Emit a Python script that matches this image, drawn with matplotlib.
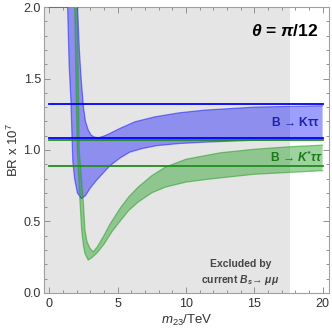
import matplotlib
matplotlib.use("Agg")
import matplotlib.pyplot as plt
from matplotlib.ticker import MultipleLocator

plt.rcParams['font.family'] = ['Liberation Sans', 'DejaVu Sans']
plt.rcParams['mathtext.fontset'] = 'custom'
plt.rcParams['mathtext.rm'] = 'Liberation Sans'
plt.rcParams['mathtext.it'] = 'Liberation Sans:italic'
plt.rcParams['mathtext.bf'] = 'Liberation Sans:bold'
plt.rcParams['mathtext.bfit'] = 'Liberation Sans:italic:bold'

# ---- data ----
blue_lo_x = [0.0, 1.34, 1.45, 1.58, 1.66, 1.72, 1.85, 2.05, 2.35, 2.65, 2.98, 3.46, 4.44, 5.2, 5.9, 6.8, 7.85, 9.5, 11.5, 15.0, 20.0]
blue_lo_y = [2.0, 2.0, 1.6, 1.35, 1.1, 0.92, 0.80, 0.70, 0.66, 0.68, 0.731, 0.788, 0.89, 0.945, 0.985, 1.01, 1.03, 1.045, 1.055, 1.068, 1.076]
blue_up_x = [2.07, 2.2, 2.33, 2.5, 2.65, 2.85, 3.05, 3.3, 3.6, 4.0, 4.44, 5.17, 6.26, 7.73, 9.5, 11.38, 15.0, 20.0]
blue_up_y = [2.0, 1.7, 1.5, 1.3, 1.2, 1.14, 1.105, 1.09, 1.086, 1.097, 1.116, 1.151, 1.197, 1.232, 1.26, 1.279, 1.30, 1.31]

green_lo_x = [0.0, 1.86, 1.95, 2.05, 2.24, 2.37, 2.5, 2.61, 2.85, 3.1, 3.5, 4.0, 4.6, 5.17, 5.8, 6.5, 7.5, 8.5, 10.0, 11.6, 15.0, 20.0]
green_lo_y = [2.0, 2.0, 1.5, 1.0, 0.65, 0.44, 0.33, 0.276, 0.229, 0.245, 0.28, 0.34, 0.43, 0.50, 0.575, 0.635, 0.70, 0.74, 0.775, 0.795, 0.83, 0.855]
green_up_x = [2.05, 2.12, 2.19, 2.48, 2.61, 2.75, 2.98, 3.22, 3.5, 3.95, 4.44, 5.17, 5.8, 6.5, 7.5, 8.5, 10.0, 12.5, 15.0, 17.5, 20.0]
green_up_y = [2.0, 1.5, 1.0, 0.65, 0.44, 0.36, 0.311, 0.287, 0.32, 0.392, 0.48, 0.59, 0.67, 0.74, 0.82, 0.88, 0.935, 0.98, 1.005, 1.022, 1.034]

blue_hlines = [1.319, 1.081]
green_hlines = [1.071, 0.890]
excluded_xmax = 17.6

xticks = [0, 5, 10, 15, 20]
yticks = [0.0, 0.5, 1.0, 1.5, 2.0]

BLUE = (0.0, 0.0, 1.0)
GREEN = (0.15, 0.62, 0.15)

fig = plt.figure(figsize=(3.32, 3.32), dpi=100)
ax = fig.add_axes([0.1316, 0.118, 0.8594, 0.8606])
ax.set_xlim(-0.41, 20.47)
ax.set_ylim(0, 2.0)

# excluded region
ax.axvspan(-0.41, excluded_xmax, color='#e5e5e5', lw=0, zorder=0)

# bands as polygons (lower curve forward, upper curve backward)
bx = blue_lo_x + blue_up_x[::-1]
by = blue_lo_y + blue_up_y[::-1]
ax.fill(bx, by, color=BLUE, alpha=0.38, lw=0, zorder=2)
ax.plot(blue_lo_x, blue_lo_y, color=BLUE, alpha=0.45, lw=0.9, zorder=3)
ax.plot(blue_up_x, blue_up_y, color=BLUE, alpha=0.45, lw=0.9, zorder=3)

gx = green_lo_x + green_up_x[::-1]
gy = green_lo_y + green_up_y[::-1]
ax.fill(gx, gy, color=GREEN, alpha=0.45, lw=0, zorder=2)
ax.plot(green_lo_x, green_lo_y, color=GREEN, alpha=0.55, lw=0.9, zorder=3)
ax.plot(green_up_x, green_up_y, color=GREEN, alpha=0.55, lw=0.9, zorder=3)

for y in blue_hlines:
    ax.plot([0, 20], [y, y], color=BLUE, lw=1.3, zorder=4)
for y in green_hlines:
    ax.plot([0, 20], [y, y], color=(0.13, 0.55, 0.13), lw=1.3, zorder=4)

# axes styling
for s in ax.spines.values():
    s.set_color('#a0a0a0')
    s.set_linewidth(0.8)
ax.set_xticks(xticks)
ax.set_yticks(yticks)
ax.set_xticklabels([str(t) for t in xticks])
ax.set_yticklabels([f"{t:.1f}" for t in yticks])
ax.xaxis.set_minor_locator(MultipleLocator(1))
ax.yaxis.set_minor_locator(MultipleLocator(0.1))
ax.tick_params(which='both', direction='in', top=True, right=True, color='#909090', width=0.7,
               labelsize=9, labelcolor='#333333')
ax.tick_params(which='major', length=4)
ax.tick_params(which='minor', length=2.3)
ax.tick_params(axis='x', pad=4)
ax.tick_params(axis='y', pad=2)

ax.set_xlabel(r'$m_{23}$/TeV', fontsize=9.5, color='#333333', labelpad=2)
ax.set_ylabel(r'BR x 10$^{7}$', fontsize=9.5, color='#333333', labelpad=2)

ax.text(19.7, 1.83, r'$\mathbfit{\theta}$ = $\mathbfit{\pi}$/12', fontsize=12.5, fontweight='bold',
        ha='right', va='center', zorder=6)
ax.text(19.8, 1.195, r'B → K$\mathbf{\tau\tau}$', fontsize=8.7, fontweight='bold', color='#2020b0',
        ha='right', va='center', zorder=6)
ax.text(20.0, 0.945, r'B → $\mathbfit{K^{*}\tau\tau}$', fontsize=8.7, fontweight='bold', color='#1a7a1a',
        ha='right', va='center', zorder=6)
ax.text(14.0, 0.14, 'Excluded by\ncurrent $\\mathbfit{B_s}$→ $\\mathbfit{\\mu\\mu}$', fontsize=7.5,
        fontweight='bold', color='#444444', ha='center', va='center', linespacing=1.35, zorder=6)

fig.savefig('out.png', dpi=100)
